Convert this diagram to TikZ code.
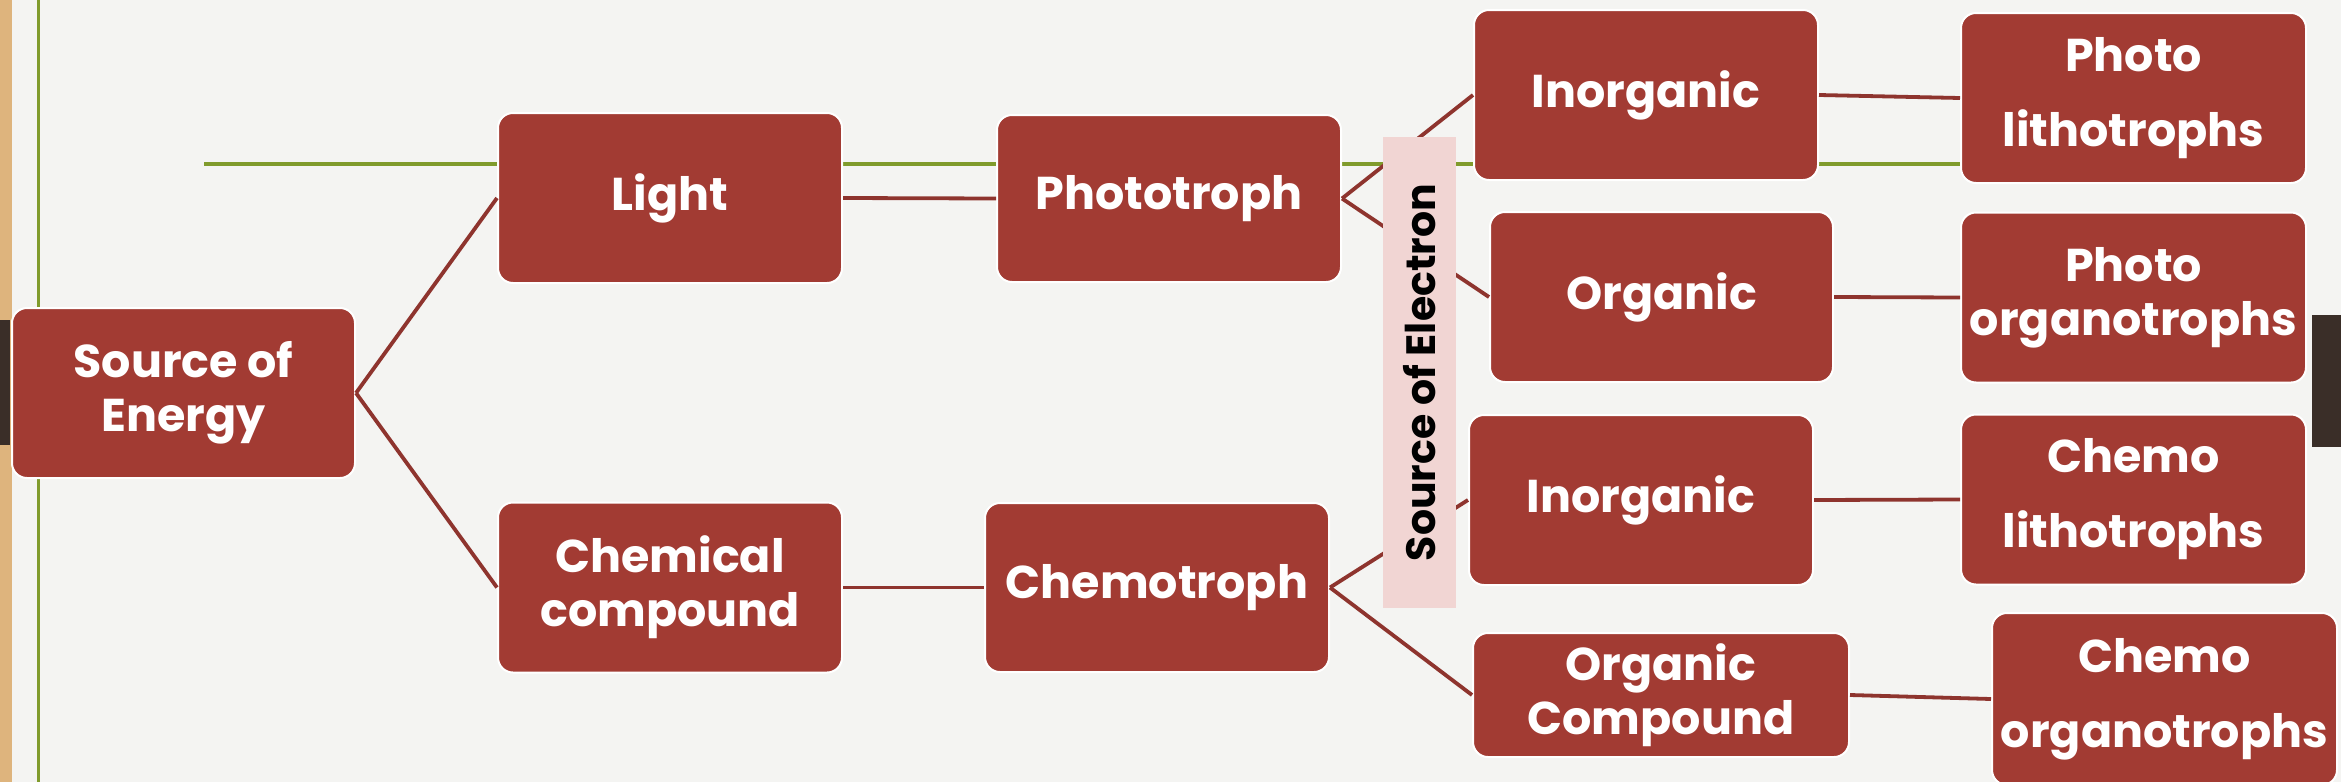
\documentclass[tikz,border=0pt]{standalone}
\usepackage{fontspec}
\setmainfont{Poppins}
\usetikzlibrary{positioning, backgrounds}
\definecolor{boxred}{RGB}{162, 59, 51}
\definecolor{linkred}{RGB}{142, 52, 46}
\definecolor{olivegreen}{RGB}{128, 155, 44}
\definecolor{bandpink}{RGB}{241, 213, 211}
\definecolor{paper}{RGB}{244, 244, 242}
\definecolor{woodtan}{RGB}{222, 180, 125}
\definecolor{darkwood}{RGB}{58, 46, 40}
\tikzstyle{group} = [rectangle, rounded corners=7.5pt, draw=white, line width=1pt, fill=boxred, text=white, align=center, inner sep=0pt, minimum width=172pt, minimum height=85pt, font=\bfseries\fontsize{23}{27}\selectfont]
\tikzstyle{loose} = [font=\bfseries\fontsize{23}{37.5}\selectfont]
\tikzstyle{link} = [draw=linkred, line width=1.9pt]
\tikzstyle{guide} = [draw=olivegreen, line width=1.9pt]

\begin{document}
\begin{tikzpicture}[x=0.5pt, y=-0.5pt]

% Page
\clip (0,0) rectangle (2341,782);
\fill[paper] (0,0) rectangle (2341,782);
\fill[woodtan] (0,0) rectangle (12,782);
\fill[darkwood] (0,320) rectangle (10,445);
\fill[darkwood] (2312,315) rectangle (2341,447);
\draw[guide] (38.5,0) -- (38.5,782);
\draw[guide] (204,164) -- (1960,164);

% Energy
\node (energy) [group, minimum width=171.5pt] at (183.5,393) {Source of\\Energy};
\node (light) [group] at (670,198) {Light};
\node (chemical) [group] at (670,587.5) {Chemical\\compound};

% Trophs
\node (phototroph) [group, minimum height=83.5pt] at (1169,198.5) {Phototroph};
\node (chemotroph) [group, minimum height=84.5pt] at (1157,587.5) {Chemotroph};

% Electron
\node (inorg_photo) [group] at (1646,95) {Inorganic};
\node (org_photo) [group, minimum width=171.5pt] at (1661.5,297) {Organic};
\node (inorg_chemo) [group] at (1641,500) {Inorganic};
\node (org_chemo) [group, minimum width=188pt, minimum height=62pt] at (1661,695) {Organic\\Compound};

% Groups
\node (photolitho) [group, loose, minimum width=172.5pt] at (2133.5,98) {Photo\\lithotrophs};
\node (photoorgano) [group, minimum width=172.5pt] at (2133.5,297.5) {Photo\\organotrophs};
\node (chemolitho) [group, loose, minimum width=172.5pt] at (2133.5,499.5) {Chemo\\lithotrophs};
\node (chemoorgano) [group, loose, minimum width=172.5pt, minimum height=86pt] at (2164.5,699) {Chemo\\organotrophs};

% Links
\draw [link] (energy.east) -- (light.west);
\draw [link] (energy.east) -- (chemical.west);
\draw [link] (light.east) -- (phototroph.west);
\draw [link] (chemical.east) -- (chemotroph.west);
\draw [link] (phototroph.east) -- (inorg_photo.west);
\draw [link] (phototroph.east) -- (org_photo.west);
\draw [link] (chemotroph.east) -- (inorg_chemo.west);
\draw [link] (chemotroph.east) -- (org_chemo.west);
\draw [link] (inorg_photo.east) -- (photolitho.west);
\draw [link] (org_photo.east) -- (photoorgano.west);
\draw [link] (inorg_chemo.east) -- (chemolitho.west);
\draw [link] (org_chemo.east) -- (chemoorgano.west);

% Band
\node (electron) [fill=bandpink, rotate=90, inner sep=0pt, minimum width=235.5pt, minimum height=36.5pt, font=\bfseries\fontsize{20.5}{24}\selectfont] at (1419.5,372.5) {Source of Electron};

\end{tikzpicture}
\end{document}
